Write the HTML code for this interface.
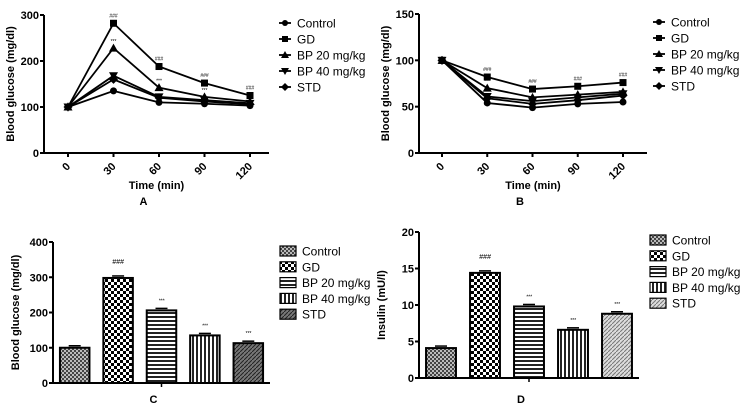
<!DOCTYPE html>
<html><head><meta charset="utf-8"><style>
html,body{margin:0;padding:0;background:#fff;}
svg{display:block;font-family:"Liberation Sans",Arial,sans-serif;}
</style></head><body>
<svg id="fig" width="747" height="417" viewBox="0 0 747 417" xmlns="http://www.w3.org/2000/svg">
<defs>
<pattern id="pCtrl" width="4" height="4" patternUnits="userSpaceOnUse"><rect width="4" height="4" fill="#bbb"/><rect width="2" height="2" fill="#444"/><rect x="2" y="2" width="2" height="2" fill="#444"/></pattern>
<pattern id="pGD" width="6" height="6" patternUnits="userSpaceOnUse"><rect width="6" height="6" fill="#fff"/><rect width="3" height="3" fill="#000"/><rect x="3" y="3" width="3" height="3" fill="#000"/></pattern>
<pattern id="pH" width="4" height="4" patternUnits="userSpaceOnUse"><rect width="4" height="4" fill="#fff"/><rect width="4" height="2" fill="#222"/></pattern>
<pattern id="pV" width="4" height="4" patternUnits="userSpaceOnUse"><rect width="4" height="4" fill="#fff"/><rect width="2" height="4" fill="#222"/></pattern>
<pattern id="pD" width="4" height="4" patternUnits="userSpaceOnUse"><rect width="4" height="4" fill="#777"/><path d="M0,4 L4,0" stroke="#222" stroke-width="1"/></pattern>
<pattern id="pDlight" width="4" height="4" patternUnits="userSpaceOnUse"><rect width="4" height="4" fill="#ddd"/><path d="M0,4 L4,0" stroke="#777" stroke-width="1"/></pattern>
</defs>
</svg>
<script>
const groups=["Control","GD","BP 20 mg/kg","BP 40 mg/kg","STD"];
const times=[0,30,60,90,120];
const aControl=[100,135,110,107,103];
const aGD=[100,282,188,152,125];
const aBP20=[100,228,142,122,112];
const aBP40=[100,168,122,115,108];
const aSTD=[100,160,120,112,106];
const aTicks=[0,100,200,300];
const bControl=[100,54,49,53,55];
const bGD=[100,82,69,72,76];
const bBP20=[100,70,60,63,66];
const bBP40=[100,61,56,60,64];
const bSTD=[100,59,53,57,62];
const bTicks=[0,50,100,150];
const cValues=[100,298,206,135,113];
const cTicks=[0,100,200,300,400];
const cLabels=["","###","***","***","***"];
const dValues=[4.1,14.4,9.8,6.6,8.8];
const dTicks=[0,5,10,15,20];
const dLabels=["","###","***","***","***"];

const svg=document.getElementById('fig');
const NS="http://www.w3.org/2000/svg";
function mk(tag,attrs,parent){const e=document.createElementNS(NS,tag);for(const k in attrs)e.setAttribute(k,attrs[k]);(parent||svg).appendChild(e);return e;}
function txt(s,attrs,parent){const e=mk('text',attrs,parent);e.textContent=s;return e;}
function marker(shape,x,y,g,s){
  s=s||3.5;
  if(shape===0) mk('circle',{cx:x,cy:y,r:s},g);
  else if(shape===1) mk('rect',{x:x-s,y:y-s,width:2*s,height:2*s},g);
  else if(shape===2) mk('path',{d:`M${x},${y-s-1}L${x+s+1},${y+s}L${x-s-1},${y+s}Z`},g);
  else if(shape===3) mk('path',{d:`M${x},${y+s+1}L${x+s+1},${y-s}L${x-s-1},${y-s}Z`},g);
  else mk('path',{d:`M${x},${y-s-1}L${x+s+1},${y}L${x},${y+s+1}L${x-s-1},${y}Z`},g);
}
function yAxis(g,ax,y0,y1,ticks,maxv,title,tcx){
  const ys=v=>y0-(v/maxv)*(y0-y1);
  let a=mk('line',{x1:ax,y1:y1,x2:ax,y2:y0,stroke:'#000','stroke-width':2},g);
  
  
  ticks.forEach(t=>{const y=ys(t);mk('line',{x1:ax-4,y1:y,x2:ax,y2:y,stroke:'#000','stroke-width':2},g);
    const l=txt(t,{x:ax-5,y:y+4,'font-size':11,'font-weight':'bold','text-anchor':'end'},g);
    
    });
  const yt=txt(title,{x:tcx,y:(y0+y1)/2,'font-size':11,'font-weight':'bold','text-anchor':'middle',transform:`rotate(-90 ${tcx} ${(y0+y1)/2})`},g);
  
  
  return ys;
}
function linePanel(name,P,series,ticks,maxv,letter,sig){
  const g=mk('g',{});
  
  
  const ys=yAxis(g,P.ax,P.y0,P.y1,ticks,maxv,'Blood glucose (mg/dl)',P.ax-30);
  const xs=t=>P.x0+(t/120)*(P.x1-P.x0);
  const xa=mk('line',{x1:P.ax,y1:P.y0,x2:P.xe,y2:P.y0,stroke:'#000','stroke-width':2},g);
  
  
  times.forEach(t=>{const x=xs(t);mk('line',{x1:x,y1:P.y0,x2:x,y2:P.y0+4,stroke:'#000','stroke-width':2},g);
    const l=txt(t,{x:x+3,y:P.y0+14,'font-size':11,'font-weight':'bold','text-anchor':'end',transform:`rotate(-45 ${x+3} ${P.y0+14})`},g);
    
    });
  const xt=txt('Time (min)',{x:(P.ax+P.xe)/2,y:P.y0+36,'font-size':11,'font-weight':'bold','text-anchor':'middle'},g);
  
  
  const lt=txt(letter,{x:(P.ax+P.xe)/2-13,y:P.y0+52,'font-size':11,'font-weight':'bold','text-anchor':'middle'},g);
  
  
  series.forEach((s,i)=>{
    const sg=mk('g',{fill:'#000'},g);
    
    
    mk('polyline',{points:s.map((v,j)=>xs(times[j])+','+ys(v)).join(' '),fill:'none',stroke:'#000','stroke-width':1.8},sg);
    s.forEach((v,j)=>marker(i,xs(times[j]),ys(v),sg));
    if(i===1) s.forEach((v,j)=>{if(j>0)txt('###',{x:xs(times[j]),y:ys(v)-6,'font-size':5,'text-anchor':'middle'},sg);});
    if(i===2&&sig) s.forEach((v,j)=>{if(j>0)txt('***',{x:xs(times[j]),y:ys(v)-5,'font-size':5,'text-anchor':'middle'},sg);});
  });
  groups.forEach((n,i)=>{const y=P.ly+i*16;
    const lg=mk('g',{},g);
    
    
    mk('line',{x1:P.lx-6,y1:y,x2:P.lx+6,y2:y,stroke:'#000','stroke-width':1.8},lg);
    marker(i,P.lx,y,lg,3);
    txt(n,{x:P.lx+12,y:y+4.5,'font-size':12},lg);});
}
linePanel('chart-a',{ax:44,y0:153,y1:15,x0:68,x1:250,xe:269,lx:285,ly:23},[aControl,aGD,aBP20,aBP40,aSTD],aTicks,300,'A',true);
linePanel('chart-b',{ax:419,y0:153,y1:14,x0:442,x1:623,xe:647,lx:659,ly:22},[bControl,bGD,bBP20,bBP40,bSTD],bTicks,150,'B',true);

function barPanel(name,P,vals,ticks,maxv,title,letter,labels,fills){
  const g=mk('g',{});
  
  
  const ys=yAxis(g,P.ax,P.y0,P.y1,ticks,maxv,title,P.ax-34);
  const xa=mk('line',{x1:P.ax,y1:P.y0,x2:P.xe,y2:P.y0,stroke:'#000','stroke-width':2},g);
  
  
  mk('line',{x1:(P.ax+P.xe)/2,y1:P.y0,x2:(P.ax+P.xe)/2,y2:P.y0+4,stroke:'#000','stroke-width':1.5},g);
  const step=(P.xe-P.ax)/vals.length;const bw=step*0.68;
  vals.forEach((v,i)=>{const cx=P.ax+step*(i+0.5);const y=ys(v);
    const r=mk('rect',{x:cx-bw/2,y:y,width:bw,height:P.y0-y,fill:`url(#${fills[i]})`,stroke:'#000','stroke-width':2},g);
    
    
    mk('line',{x1:cx-6,y1:y-2,x2:cx+6,y2:y-2,stroke:'#000','stroke-width':1.5},g);
    if(labels[i]){const t=txt(labels[i],{x:cx,y:y-(labels[i]==='###'?14:8),'font-size':labels[i]==='###'?7:5,'font-style':'italic','text-anchor':'middle'},g);
      
      }
  });
  const lt=txt(letter,{x:(P.ax+P.xe)/2-8,y:403,'font-size':11,'font-weight':'bold','text-anchor':'middle'},g);
  
  
  groups.forEach((n,i)=>{const y=P.ly+i*15.8;
    const lg=mk('g',{},g);
    
    
    mk('rect',{x:P.lx,y:y-5,width:16,height:10,fill:`url(#${fills[i]})`,stroke:'#000','stroke-width':1.2},lg);
    txt(n,{x:P.lx+22,y:y+4.5,'font-size':12},lg);});
}
barPanel('chart-c',{ax:53,y0:383,y1:242,xe:270,lx:280,ly:251},cValues,cTicks,400,'Blood glucose (mg/dl)','C',cLabels,['pCtrl','pGD','pH','pV','pD']);
barPanel('chart-d',{ax:419,y0:378,y1:232,xe:639,lx:650,ly:240},dValues,dTicks,20,'Insulin (mU/l)','D',dLabels,['pCtrl','pGD','pH','pV','pDlight']);
</script>
</body></html>
